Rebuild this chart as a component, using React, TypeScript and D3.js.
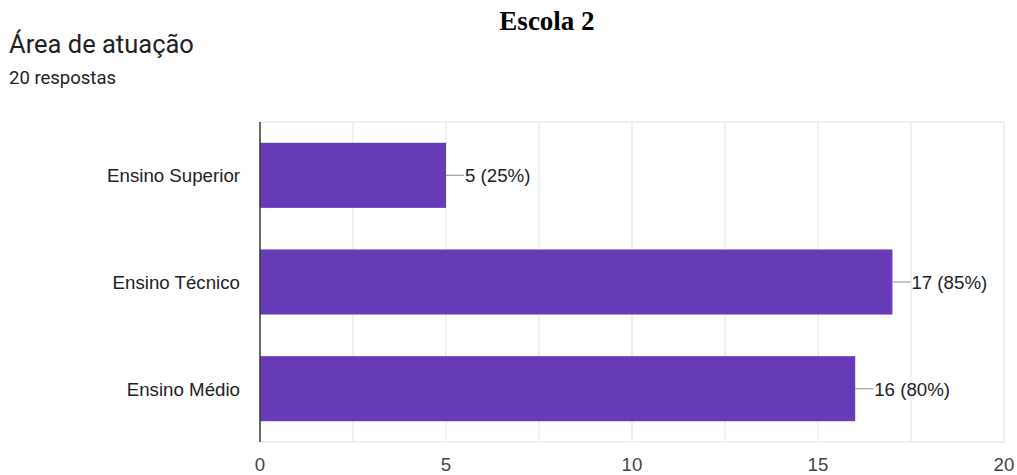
import React from "react";
import * as d3 from "d3";

const categories = ["Ensino Superior", "Ensino Técnico", "Ensino Médio"];
const values = [5, 17, 16];
const percents = ["25%", "85%", "80%"];
const xTicks = [0, 5, 10, 15, 20];
const gridValues = [2.5, 5, 7.5, 10, 12.5, 15, 17.5, 20];

export default function App() {
  const W = 1017, H = 475;
  const left = 260, right = 1004, top = 122, bottom = 442;
  const x = d3.scaleLinear().domain([0, 20]).range([left, right]);
  const y = d3.scaleBand<string>().domain(categories).range([top, bottom]).paddingInner(0.39).paddingOuter(0.195);
  return (
    <svg width={W} height={H} style={{ position: "absolute", left: 0, top: 0, background: "#fff" }}>
      <rect x={0} y={0} width={W} height={H} fill="#fff" />
      <text x={547} y={30} textAnchor="middle" fontFamily="Liberation Serif, Times New Roman, serif" fontWeight="bold" fontSize={27} fill="#000">Escola 2</text>
      <text x={9} y={53} fontFamily="Roboto, sans-serif" fontSize={25.5} fill="#202124">Área de atuação</text>
      <text x={9} y={84} fontFamily="Roboto, sans-serif" fontSize={18.5} fill="#202124">20 respostas</text>
      {gridValues.map((g) => (
        <line key={g} x1={x(g)} x2={x(g)} y1={top} y2={bottom} stroke="#ebebeb" strokeWidth={1.5} />
      ))}
      <line x1={left} x2={right} y1={top} y2={top} stroke="#ebebeb" strokeWidth={1.5} />
      <line x1={left} x2={right} y1={bottom} y2={bottom} stroke="#ebebeb" strokeWidth={1.5} />
      {categories.map((c, i) => {
        const yy = y(c)!;
        const bh = y.bandwidth();
        const xe = x(values[i]);
        const cy = yy + bh / 2;
        return (
          <g key={c}>
            <rect x={left} y={yy} width={xe - left} height={bh} fill="#673ab7" />
            <line x1={xe} x2={xe + 18} y1={cy} y2={cy} stroke="#9e9e9e" strokeWidth={1.2} />
            <text x={xe + 19} y={cy + 7} fontFamily="Liberation Sans, Arial, sans-serif" fontSize={18.7} fill="#222">{`${values[i]} (${percents[i]})`}</text>
            <text x={240} y={cy + 7} textAnchor="end" fontFamily="Liberation Sans, Arial, sans-serif" fontSize={18.7} fill="#222">{c}</text>
          </g>
        );
      })}
      <line x1={left} x2={left} y1={top} y2={bottom} stroke="#333" strokeWidth={1.5} />
      {xTicks.map((t) => (
        <text key={t} x={x(t)} y={471} textAnchor="middle" fontFamily="Liberation Sans, Arial, sans-serif" fontSize={18.7} fill="#444">{t}</text>
      ))}
    </svg>
  );
}
